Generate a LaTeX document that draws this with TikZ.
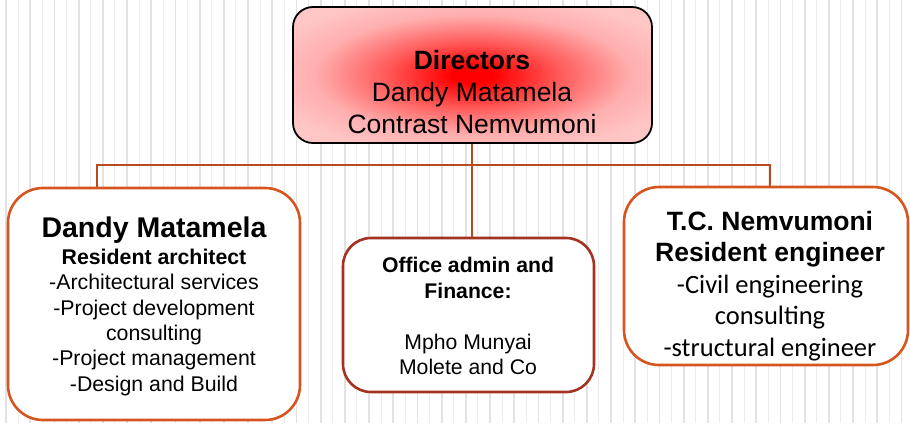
\documentclass[tikz,border=0pt]{standalone}
\usepackage{fontspec}
\setmainfont{Liberation Sans}
\newfontfamily\calib{Carlito}
\definecolor{pinkC}{RGB}{255,198,198}
\definecolor{connC}{RGB}{184,74,30}
\definecolor{orangeC}{RGB}{214,84,30}
\definecolor{darkredC}{RGB}{164,50,32}
\definecolor{gridA}{RGB}{226,226,226}
\definecolor{gridB}{RGB}{236,236,236}
\pgfdeclareradialshading{dirshade}{\pgfpoint{0bp}{0bp}}{color(0bp)=(red); color(3bp)=(red); color(12bp)=(red!55!pinkC); color(22bp)=(red!12!pinkC); color(30bp)=(pinkC); color(50bp)=(pinkC)}
\tikzset{
  gridthick/.style={gridA, line width=1.8pt},
  gridthin/.style={gridB, line width=1pt},
  conn/.style={connC, line width=2pt},
  dirbox/.style={draw=black, line width=1.8pt, rounded corners=20pt, shading=dirshade, rectangle, inner sep=0pt},
  sidebox/.style={draw=orangeC, line width=2.6pt, rounded corners=35pt, fill=white, rectangle, inner sep=0pt},
  offbox/.style={draw=darkredC, line width=2.6pt, rounded corners=28pt, fill=white, rectangle, inner sep=0pt},
  txt/.style={inner sep=0pt, align=center, anchor=north, text=black}
}
\begin{document}
\begin{tikzpicture}[x=1pt, y=-1pt]
\useasboundingbox (0,0) rectangle (910,423);
\foreach \i in {0,...,74}{
  \pgfmathtruncatemacro\oddi{mod(\i,2)}
  \ifnum\oddi=0
    \draw[gridthick] (6+12.1*\i,0) -- (6+12.1*\i,423);
  \else
    \draw[gridthin] (6+12.1*\i,0) -- (6+12.1*\i,423);
  \fi
}
% boxes
\node[dirbox, minimum width=359pt, minimum height=136pt] (dir) at (472.5,75) {};
\node[sidebox, minimum width=292pt, minimum height=232pt] (left) at (154,304) {};
\node[offbox, minimum width=251pt, minimum height=154pt] (office) at (468.5,315) {};
\node[sidebox, minimum width=284pt, minimum height=178pt] (right) at (766,276) {};
% connectors
\coordinate (busM) at (472,165);
\coordinate (busL) at (97,165);
\coordinate (busR) at (770,165);
\draw[conn] (dir.south -| busM) -- (busM |- office.north);
\draw[conn] (left.north -| busL) -- (busL) -- (busR) -- (right.north -| busR);
% texts
\node[txt, font=\fontsize{26.5}{32}\selectfont] (dirtext) at (472,50)
  {\textbf{Directors}\\Dandy Matamela\\Contrast Nemvumoni};
\node[txt, font=\fontsize{21.3}{25.4}\selectfont] (lefttext) at (154,216.5)
  {{\fontsize{28.5}{30}\selectfont\bfseries Dandy Matamela}\\[1.5pt]
   \textbf{Resident architect}\\-Architectural services\\-Project development\\consulting\\-Project management\\-Design and Build};
\node[txt, font=\fontsize{21.2}{25.5}\selectfont] (offtext) at (468,257)
  {\textbf{Office admin and}\\\textbf{Finance:}\\ \\Mpho Munyai\\Molete and Co};
\node[txt, font=\fontsize{26.5}{31.5}\selectfont] (righttext) at (770,211)
  {\textbf{T.C. Nemvumoni}\\\textbf{Resident engineer}\\{\calib -Civil engineering}\\{\calib consulting}\\{\calib -structural engineer}};
\end{tikzpicture}
\end{document}
